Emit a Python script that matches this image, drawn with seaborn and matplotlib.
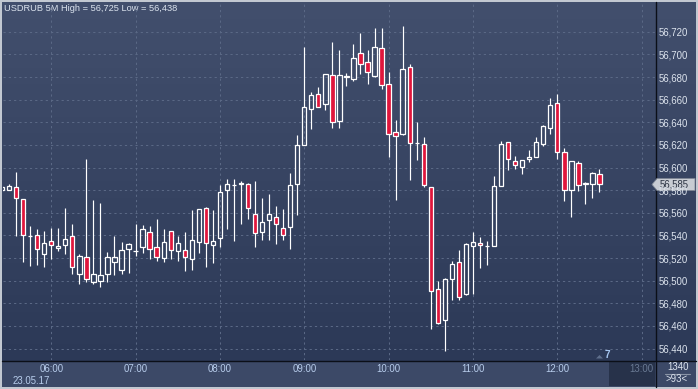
import numpy as np
import pandas as pd
import matplotlib
matplotlib.use("Agg")
import matplotlib.pyplot as plt
import seaborn as sns
from matplotlib.colors import LinearSegmentedColormap
from matplotlib.patches import Rectangle, Polygon

# ---------------- data (USDRUB, 5-minute candles, 23.05.17 from 05:25) ----------------
start_time = "05:25"
bar_minutes = 5
opens = [56.5805, 56.5804, 56.5825, 56.5720, 56.5395, 56.5400, 56.5233, 56.5348, 56.5291, 56.5318,
         56.5394, 56.5061, 56.5209, 56.4991, 56.4994, 56.5056, 56.5165, 56.5097, 56.5277, 56.5258,
         56.5300, 56.5434, 56.5302, 56.5197, 56.5436, 56.5260, 56.5273, 56.5194, 56.5340, 56.5646,
         56.5312, 56.5380, 56.5798, 56.5843, 56.5850, 56.5851, 56.5586, 56.5427, 56.5533, 56.5565,
         56.5468, 56.5474, 56.5851, 56.6203, 56.6520, 56.6647, 56.6564, 56.6815, 56.6413, 56.6802,
         56.6786, 56.7009, 56.6932, 56.6808, 56.7053, 56.6735, 56.6311, 56.6293, 56.6885, 56.6214,
         56.6205, 56.5825, 56.4923, 56.4649, 56.5017, 56.5163, 56.4879, 56.5310, 56.5331, 56.5304,
         56.5309, 56.5841, 56.6223, 56.6062, 56.6007, 56.6071, 56.6097, 56.6209, 56.6352, 56.6567,
         56.6141, 56.5805, 56.6044, 56.5855, 56.5851, 56.5941]
highs = [56.5835, 56.5850, 56.5963, 56.5725, 56.5483, 56.5456, 56.5439, 56.5468, 56.5468, 56.5645,
         56.5500, 56.5235, 56.6072, 56.5713, 56.5686, 56.5250, 56.5394, 56.5339, 56.5330, 56.5500,
         56.5494, 56.5483, 56.5542, 56.5456, 56.5440, 56.5394, 56.5432, 56.5624, 56.5635, 56.5650,
         56.5624, 56.5845, 56.5898, 56.5896, 56.5880, 56.5860, 56.5880, 56.5728, 56.5766, 56.5660,
         56.5633, 56.5949, 56.6287, 56.7065, 56.6667, 56.6709, 56.6830, 56.7109, 56.7038, 56.6832,
         56.7096, 56.7186, 56.7038, 56.7233, 56.7233, 56.6844, 56.6420, 56.7250, 56.6915, 56.6399,
         56.6269, 56.5830, 56.4995, 56.5026, 56.5172, 56.5271, 56.5330, 56.5432, 56.5388, 56.5350,
         56.5926, 56.6236, 56.6225, 56.6101, 56.6065, 56.6153, 56.6272, 56.6377, 56.6612, 56.6647,
         56.6172, 56.6060, 56.6062, 56.5872, 56.5958, 56.5987]
lows = [56.5795, 56.5800, 56.5397, 56.5167, 56.5132, 56.5138, 56.5123, 56.5191, 56.5262, 56.5233,
        56.5061, 56.4973, 56.4991, 56.4973, 56.4946, 56.4991, 56.5050, 56.5059, 56.5065, 56.5218,
        56.5247, 56.5191, 56.5176, 56.5167, 56.5194, 56.5174, 56.5088, 56.5094, 56.5247, 56.5123,
        56.5158, 56.5300, 56.5456, 56.5353, 56.5503, 56.5542, 56.5300, 56.5359, 56.5359, 56.5321,
        56.5356, 56.5277, 56.5577, 56.6195, 56.6343, 56.6535, 56.6505, 56.6349, 56.6346, 56.6723,
        56.6769, 56.6824, 56.6740, 56.6800, 56.6691, 56.6095, 56.5710, 56.6290, 56.5889, 56.6069,
        56.5830, 56.4577, 56.4617, 56.4380, 56.4829, 56.4829, 56.4875, 56.4882, 56.5116, 56.5138,
        56.5305, 56.5840, 56.5978, 56.5987, 56.5947, 56.6050, 56.6095, 56.6192, 56.6299, 56.6078,
        56.5706, 56.5567, 56.5792, 56.5682, 56.5735, 56.5783]
closes = [56.5825, 56.5834, 56.5728, 56.5400, 56.5398, 56.5277, 56.5330, 56.5312, 56.5306, 56.5368,
          56.5118, 56.5220, 56.5012, 56.5059, 56.5047, 56.5206, 56.5206, 56.5268, 56.5326, 56.5264,
          56.5454, 56.5278, 56.5206, 56.5339, 56.5268, 56.5330, 56.5206, 56.5356, 56.5630, 56.5330,
          56.5350, 56.5781, 56.5854, 56.5847, 56.5860, 56.5639, 56.5418, 56.5516, 56.5586, 56.5498,
          56.5403, 56.5843, 56.6196, 56.6532, 56.6638, 56.6539, 56.6824, 56.6398, 56.6815, 56.6806,
          56.6965, 56.6915, 56.6841, 56.7062, 56.6726, 56.6293, 56.6276, 56.6868, 56.6219, 56.6216,
          56.5843, 56.4906, 56.4623, 56.5013, 56.5145, 56.4858, 56.5322, 56.5339, 56.5312, 56.5306,
          56.5835, 56.6212, 56.6072, 56.6018, 56.6063, 56.6091, 56.6223, 56.6365, 56.6550, 56.6134,
          56.5798, 56.6055, 56.5843, 56.5860, 56.5949, 56.5850]
hour_labels = ["06:00", "07:00", "08:00", "09:00", "10:00", "11:00", "12:00", "13:00"]
price_levels = [56.44, 56.46, 56.48, 56.50, 56.52, 56.54, 56.56, 56.58,
                56.60, 56.62, 56.64, 56.66, 56.68, 56.70, 56.72]
title_text = "USDRUB 5M High = 56,725 Low = 56,438"
date_text = "23.05.17"
last_price_text = "56,585"
counter_text = "7"
corner_top, corner_bottom = "1340", ">93<"

# ---------------- frame ----------------
df = pd.DataFrame({"open": opens, "high": highs, "low": lows, "close": closes})
df["idx"] = np.arange(len(df))
df["up"] = df["close"] >= df["open"]
df["top"] = df[["open", "close"]].max(axis=1)
df["bot"] = df[["open", "close"]].min(axis=1)


def to_min(s):
    h, m = s.split(":")
    return int(h) * 60 + int(m)


hour_pos = [(to_min(h) - to_min(start_time)) / bar_minutes for h in hour_labels]

sns.set_theme(style="dark")
plt.rcParams["font.family"] = ["Liberation Sans", "DejaVu Sans"]
plt.rcParams["lines.scale_dashes"] = False

W, H = 698, 389
fig = plt.figure(figsize=(W / 100, H / 100), dpi=100)
fig.patch.set_facecolor("#c2c8d1")

# background / panel axes in pixel coordinates
bg = fig.add_axes([0, 0, 1, 1])
bg.axis("off")
cmap = LinearSegmentedColormap.from_list("bg", ["#424f6d", "#2c3957"])
grad = np.linspace(0, 1, 256)[:, None]
bg.imshow(grad, extent=(2, 696, 361, 2), cmap=cmap, aspect="auto", origin="upper", zorder=0)
bg.add_patch(Rectangle((2, 361), 694, 26, facecolor="#3c4967", edgecolor="none", zorder=1))
bg.add_patch(Rectangle((609, 361), 46, 25, facecolor="#27324a", edgecolor="none", zorder=2))
bg.plot([655.5, 655.5], [2, 387], color="#0b0f18", lw=1.0, zorder=3)
bg.plot([2, 696], [360.5, 360.5], color="#0b0f18", lw=1.0, zorder=3)
bg.set_xlim(0, W)
bg.set_ylim(H, 0)

# main price axes
ax = fig.add_axes([3 / W, (H - 360) / H, 652 / W, 357 / H])
ax.patch.set_alpha(0)
ax.set_xlim(0.14, 92.9)
ax.set_ylim(56.4299, 56.7454)
for s in ax.spines.values():
    s.set_visible(False)

grid_kw = dict(color="#5a6885", lw=0.75, linestyle=(0, (1.6, 2.2)), zorder=1)
ax.hlines(price_levels, 0.14, 92.9, **grid_kw)
ax.vlines(hour_pos, 56.4299, 56.7454, **grid_kw)

# wicks (outside bodies only)
wk = dict(color="white", lw=0.85, zorder=3)
ax.vlines(df["idx"], df["top"], df["high"], **wk)
ax.vlines(df["idx"], df["low"], df["bot"], **wk)

# bodies
body_h = (df["top"] - df["bot"]).clip(lower=0.00005)
colors = np.where(df["up"], "none", "#e0163c")
ax.bar(df["idx"], body_h, bottom=df["bot"], width=0.62, color=colors,
       edgecolor="white", linewidth=0.9, zorder=4)

# ticks and labels
ax.yaxis.tick_right()
ax.set_yticks(price_levels)
ax.set_yticklabels([f"{p:.3f}".replace(".", ",") for p in price_levels])
ax.set_xticks(hour_pos)
ax.set_xticklabels(hour_labels)
ax.tick_params(axis="y", length=0, pad=2.6, labelsize=6.9, labelcolor="#dde4ee")
ax.tick_params(axis="x", length=0, pad=3.2, labelsize=6.9, labelcolor="#b8cdec")
ax.get_xticklabels()[-1].set_color("#6a7a94")
ax.grid(False)

# texts in pixel space
bg.text(4, 8.5, title_text, fontsize=6.7, color="#dbe3ee", va="center", ha="left", zorder=6)
bg.text(12.5, 380.5, date_text, fontsize=6.9, color="#b8cdec", va="center", ha="left", zorder=6)
bg.add_patch(Polygon([[596, 358.5], [599.5, 355], [603, 358.5]], closed=True,
                     facecolor="#5f6f8c", edgecolor="none", zorder=6))
bg.text(604.5, 355.5, counter_text, fontsize=7.2, color="#a6c6f0", va="center", ha="left",
        fontweight="bold", zorder=6)
bg.text(678, 367.5, corner_top, fontsize=6.9, color="#dde4ee", va="center", ha="center", zorder=6)
bg.plot([665, 690], [373.5, 373.5], color="#8a94a6", lw=0.8, zorder=6)
bg.text(677, 379.5, corner_bottom, fontsize=6.9, color="#dde4ee", va="center", ha="center", zorder=6)

# last price tag
bg.add_patch(Polygon([[652, 184.5], [657, 178.5], [695, 178.5], [695, 190.5], [657, 190.5]],
                     closed=True, facecolor="#c8ccd3", edgecolor="#7d8594", lw=0.6, zorder=7))
bg.text(660, 184.8, last_price_text, fontsize=6.9, color="#2b3342", va="center", ha="left", zorder=8)

fig.savefig("out.png", dpi=100, facecolor=fig.get_facecolor())
